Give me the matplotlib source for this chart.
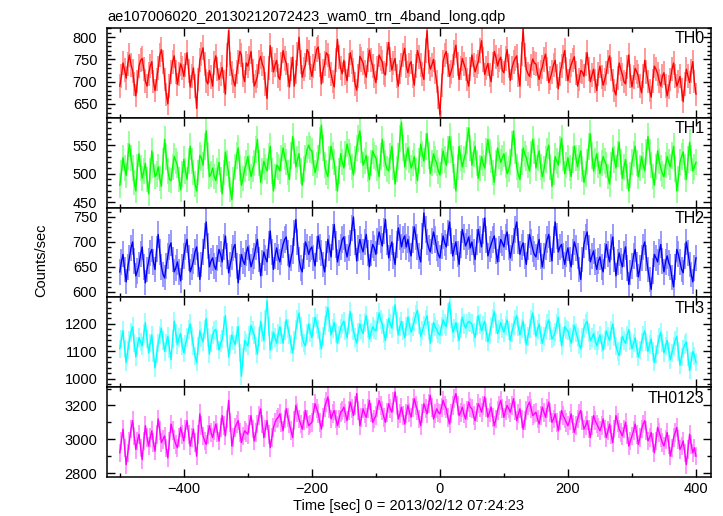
import numpy as np
import matplotlib.pyplot as plt
from matplotlib.ticker import MultipleLocator
from matplotlib.colors import to_rgb

plt.rcParams['font.family'] = ['Liberation Sans', 'DejaVu Sans']

title = 'ae107006020_20130212072423_wam0_trn_4band_long.qdp'
xlabel = 'Time [sec] 0 = 2013/02/12 07:24:23'
ylabel = 'Counts/sec'

# time bins (s): on-grid points every 5 s from -500 to 400,
# mid points half way between them
time_on = np.arange(-500, 401, 5)
time_mid = time_on[:-1] + 2.5

th0 = [690, 742, 708, 760, 725, 668, 735, 752, 701, 718,
       745, 680, 730, 772, 705, 650, 722, 758, 694, 740,
       712, 765, 688, 731, 640, 748, 776, 702, 725, 690,
       758, 705, 732, 672, 815, 719, 690, 744, 760, 700,
       735, 768, 690, 712, 757, 730, 662, 781, 722, 748,
       705, 770, 742, 688, 755, 722, 800, 710, 738, 765,
       712, 752, 778, 695, 741, 760, 718, 688, 795, 730,
       748, 702, 765, 726, 681, 757, 742, 710, 771, 735,
       698, 760, 744, 715, 788, 726, 752, 690, 738, 775,
       720, 745, 692, 770, 738, 705, 815, 728, 750, 700,
       626, 745, 768, 712, 736, 782, 705, 752, 729, 690,
       760, 722, 745, 792, 716, 741, 700, 768, 735, 755,
       720, 772, 703, 744, 758, 690, 818, 728, 712, 751,
       740, 705, 733, 762, 698, 722, 748, 684, 735, 770,
       702, 738, 756, 690, 725, 712, 765, 700, 728, 680,
       735, 692, 720, 758, 703, 670, 742, 716, 695, 760,
       688, 730, 712, 675, 748, 700, 665, 735, 718, 690,
       720, 668, 705, 742, 690, 712, 655, 728, 698, 745,
       672]
th0_mid = [712, 726, 740, 738, 695, 700, 748, 728, 690, 735,
           700, 705, 760, 745, 672, 690, 745, 722, 718, 730,
           738, 725, 712, 690, 705, 762, 740, 695, 710, 742,
           728, 718, 700, 760, 740, 702, 722, 768, 715, 742,
           752, 725, 700, 745, 740, 695, 730, 750, 738, 712,
           740, 752, 715, 728, 690, 762, 745, 728, 772, 730,
           735, 772, 738, 725, 765, 735, 700, 748, 755, 718,
           720, 738, 745, 695, 712, 750, 722, 748, 748, 712,
           730, 752, 720, 762, 750, 742, 712, 722, 760, 735,
           738, 712, 735, 755, 718, 770, 745, 738, 722, 665,
           692, 760, 738, 722, 765, 740, 730, 740, 705, 728,
           738, 735, 770, 750, 730, 715, 740, 755, 748, 725,
           752, 735, 730, 752, 715, 762, 760, 718, 735, 742,
           718, 722, 750, 728, 708, 738, 712, 718, 755, 728,
           725, 748, 720, 705, 722, 740, 728, 715, 702, 718,
           710, 705, 745, 728, 680, 708, 728, 700, 732, 712,
           710, 722, 690, 712, 722, 680, 702, 728, 702, 712,
           690, 688, 728, 712, 700, 682, 695, 712, 725, 700]

th1 = [480, 528, 497, 552, 510, 470, 535, 492, 518, 465,
       540, 495, 512, 478, 560, 505, 488, 530, 515, 472,
       525, 490, 548, 502, 470, 532, 515, 575, 495, 510,
       488, 520, 465, 538, 500, 455, 512, 545, 480, 508,
       530, 495, 518, 560, 485, 522, 505, 548, 470, 515,
       505, 545, 520, 490, 565, 512, 535, 480, 528, 550,
       540, 502, 528, 585, 515, 495, 548, 520, 470, 535,
       510, 552, 530, 498, 545, 575, 515, 532, 490, 540,
       528, 495, 560, 518, 505, 548, 482, 530, 590, 512,
       545, 510, 530, 488, 552, 522, 570, 500, 535, 518,
       498, 540, 515, 565, 525, 470, 548, 512, 535, 580,
       515, 548, 492, 530, 510, 560, 525, 485, 545, 520,
       535, 500, 520, 575, 512, 490, 545, 528, 505, 560,
       510, 540, 495, 525, 550, 478, 530, 515, 562, 500,
       528, 495, 548, 512, 540, 485, 520, 570, 505, 535,
       500, 530, 515, 482, 545, 510, 555, 492, 525, 470,
       520, 548, 495, 530, 505, 565, 515, 480, 540, 510,
       495, 530, 512, 548, 470, 520, 538, 490, 555, 505,
       520]
th1_mid = [502, 510, 530, 528, 485, 512, 510, 505, 490, 505,
           515, 500, 492, 522, 530, 490, 512, 522, 490, 500,
           505, 522, 522, 482, 502, 528, 548, 532, 500, 495,
           505, 490, 502, 518, 472, 490, 532, 510, 492, 518,
           510, 508, 542, 518, 505, 512, 530, 505, 495, 512,
           528, 530, 502, 532, 540, 525, 505, 508, 542, 542,
           518, 515, 558, 545, 502, 525, 532, 492, 505, 520,
           535, 538, 512, 525, 562, 542, 522, 508, 518, 532,
           510, 530, 535, 508, 530, 512, 508, 562, 545, 530,
           525, 518, 505, 522, 535, 548, 532, 518, 525, 505,
           522, 525, 542, 542, 495, 512, 528, 525, 558, 545,
           535, 518, 510, 518, 540, 538, 502, 518, 532, 528,
           515, 508, 552, 540, 498, 520, 535, 515, 535, 540,
           528, 512, 508, 540, 512, 502, 522, 542, 528, 515,
           510, 525, 528, 528, 508, 500, 548, 532, 522, 515,
           518, 522, 495, 515, 525, 535, 520, 512, 495, 498,
           535, 518, 510, 515, 538, 538, 495, 512, 522, 500,
           515, 520, 532, 508, 492, 530, 512, 525, 528, 512]

th2 = [640, 675, 620, 668, 700, 632, 655, 690, 618, 662,
       685, 645, 715, 650, 628, 672, 698, 640, 660, 622,
       672, 705, 640, 662, 690, 625, 680, 740, 650, 668,
       645, 685, 660, 712, 638, 670, 695, 618, 675, 655,
       690, 650, 672, 705, 632, 680, 660, 722, 645, 688,
       660, 695, 710, 650, 682, 745, 665, 640, 700, 675,
       690, 652, 712, 678, 640, 705, 670, 735, 660, 690,
       710, 670, 698, 750, 662, 705, 680, 715, 650, 695,
       675, 720, 692, 745, 668, 700, 655, 728, 690, 712,
       705, 672, 730, 690, 660, 758, 700, 680, 720, 688,
       668, 712, 690, 740, 672, 700, 655, 725, 692, 710,
       700, 665, 725, 690, 748, 672, 695, 712, 660, 705,
       690, 720, 668, 702, 740, 675, 698, 655, 715, 685,
       670, 705, 650, 690, 715, 662, 740, 680, 695, 655,
       688, 650, 700, 672, 625, 695, 720, 660, 682, 645,
       670, 640, 695, 660, 710, 632, 678, 650, 690, 615,
       652, 685, 630, 668, 700, 645, 605, 675, 660, 695,
       640, 672, 650, 610, 685, 660, 638, 700, 655, 620,
       668]
th2_mid = [660, 645, 650, 688, 662, 642, 675, 650, 645, 678,
           660, 685, 680, 635, 652, 690, 665, 648, 640, 650,
           690, 668, 650, 680, 655, 655, 712, 692, 662, 652,
           668, 675, 690, 672, 655, 688, 652, 650, 662, 678,
           668, 662, 690, 665, 658, 668, 695, 680, 672, 670,
           680, 705, 678, 668, 718, 700, 648, 672, 690, 685,
           668, 685, 690, 655, 675, 688, 710, 695, 678, 705,
           685, 688, 728, 700, 688, 690, 700, 678, 678, 688,
           702, 705, 722, 700, 688, 672, 695, 710, 705, 690,
           685, 705, 710, 672, 712, 725, 688, 702, 705, 675,
           692, 698, 718, 702, 688, 675, 695, 710, 700, 688,
           680, 700, 705, 722, 705, 685, 705, 682, 685, 698,
           710, 690, 688, 725, 702, 690, 672, 690, 700, 675,
           690, 672, 672, 705, 685, 705, 712, 690, 672, 675,
           665, 680, 688, 645, 665, 710, 688, 672, 660, 662,
           650, 672, 675, 690, 665, 660, 662, 675, 648, 638,
           672, 655, 648, 690, 668, 625, 642, 668, 680, 662,
           660, 658, 628, 650, 675, 645, 672, 678, 635, 648]

th3 = [1110, 1175, 1060, 1140, 1190, 1080, 1150, 1120, 1205, 1095,
       1160, 1040, 1130, 1185, 1100, 1155, 1070, 1210, 1125, 1165,
       1095, 1150, 1200, 1120, 1060, 1175, 1135, 1220, 1090, 1160,
       1180, 1105, 1145, 1230, 1080, 1160, 1125, 1190, 1010, 1140,
       1120, 1195, 1160, 1090, 1210, 1140, 1285, 1105, 1170, 1130,
       1190, 1130, 1215, 1160, 1095, 1180, 1240, 1150, 1120, 1200,
       1150, 1225, 1180, 1110, 1195, 1260, 1160, 1205, 1130, 1185,
       1210, 1150, 1245, 1175, 1130, 1200, 1165, 1230, 1145, 1190,
       1175, 1240, 1200, 1140, 1220, 1185, 1270, 1160, 1210, 1150,
       1225, 1170, 1210, 1250, 1155, 1195, 1230, 1130, 1205, 1180,
       1160, 1215, 1190, 1280, 1170, 1205, 1140, 1225, 1185, 1210,
       1200, 1150, 1230, 1175, 1210, 1135, 1190, 1245, 1165, 1205,
       1170, 1215, 1140, 1195, 1230, 1160, 1210, 1125, 1185, 1240,
       1155, 1200, 1130, 1180, 1215, 1145, 1170, 1225, 1120, 1190,
       1175, 1130, 1195, 1150, 1110, 1185, 1210, 1140, 1165, 1120,
       1160, 1105, 1175, 1140, 1200, 1120, 1085, 1155, 1130, 1180,
       1110, 1150, 1080, 1135, 1175, 1100, 1145, 1060, 1125, 1170,
       1095, 1140, 1070, 1120, 1155, 1050, 1110, 1135, 1030, 1100,
       1060]
th3_mid = [1145, 1110, 1105, 1170, 1130, 1120, 1135, 1165, 1145, 1130,
           1095, 1090, 1160, 1140, 1130, 1110, 1145, 1165, 1150, 1120,
           1125, 1180, 1155, 1085, 1120, 1150, 1180, 1150, 1130, 1175,
           1140, 1130, 1195, 1150, 1125, 1140, 1160, 1095, 1080, 1130,
           1160, 1175, 1120, 1155, 1170, 1215, 1190, 1140, 1150, 1165,
           1160, 1175, 1185, 1125, 1140, 1215, 1190, 1130, 1165, 1170,
           1190, 1200, 1140, 1155, 1230, 1205, 1185, 1165, 1160, 1200,
           1175, 1200, 1205, 1150, 1170, 1180, 1205, 1185, 1170, 1180,
           1210, 1215, 1165, 1185, 1200, 1230, 1210, 1190, 1175, 1190,
           1195, 1190, 1235, 1200, 1175, 1215, 1175, 1170, 1190, 1165,
           1190, 1200, 1240, 1220, 1185, 1170, 1185, 1200, 1200, 1205,
           1170, 1195, 1200, 1195, 1170, 1160, 1220, 1200, 1180, 1185,
           1195, 1175, 1170, 1215, 1190, 1185, 1165, 1155, 1215, 1195,
           1180, 1160, 1155, 1200, 1175, 1155, 1200, 1170, 1155, 1180,
           1150, 1165, 1170, 1125, 1150, 1200, 1170, 1150, 1140, 1140,
           1130, 1140, 1155, 1175, 1155, 1100, 1120, 1140, 1160, 1140,
           1130, 1110, 1105, 1160, 1135, 1125, 1100, 1090, 1150, 1130,
           1120, 1100, 1095, 1140, 1100, 1080, 1125, 1080, 1065, 1085]

th0123 = [2920, 3060, 2850, 2990, 3110, 2940, 3030, 2880, 3080, 2960,
          3050, 2930, 3120, 2980, 3020, 2890, 3090, 3000, 2950, 3070,
          2990, 3110, 2960, 3060, 2900, 3150, 3020, 2970, 3080, 3010,
          3090, 2990, 3140, 3020, 3230, 2960, 3070, 3110, 2980, 3050,
          3030, 3140, 2990, 3090, 3180, 3010, 3110, 2950, 3070, 3120,
          3150, 3050, 3180, 3090, 3010, 3200, 3120, 3060, 3170, 3080,
          3100, 3210, 3150, 3060, 3190, 3250, 3120, 3170, 3080, 3160,
          3190, 3110, 3220, 3140, 3270, 3080, 3180, 3130, 3230, 3100,
          3140, 3230, 3170, 3100, 3210, 3160, 3280, 3120, 3190, 3090,
          3200, 3130, 3240, 3170, 3080, 3210, 3150, 3260, 3120, 3180,
          3150, 3230, 3180, 3090, 3200, 3270, 3140, 3190, 3120, 3220,
          3180, 3110, 3210, 3160, 3250, 3130, 3190, 3080, 3170, 3230,
          3130, 3200, 3160, 3240, 3110, 3180, 3060, 3170, 3220, 3140,
          3160, 3090, 3190, 3130, 3220, 3100, 3150, 3050, 3170, 3120,
          3080, 3150, 3040, 3120, 3170, 3060, 3110, 3010, 3140, 3090,
          3050, 3120, 3010, 3090, 2980, 3140, 3060, 3020, 3100, 2960,
          3020, 3090, 2970, 3060, 3110, 2990, 3040, 2920, 3070, 3010,
          2960, 3040, 2900, 3010, 3070, 2940, 2990, 2850, 3030, 2920,
          2900]
th0123_mid = [2990, 2950, 2920, 3060, 3020, 2990, 2950, 2990, 3010, 3010,
              2980, 3030, 3050, 3000, 2950, 2990, 3050, 2970, 3010, 3030,
              3060, 3030, 3010, 2980, 3030, 3080, 2990, 3030, 3040, 3050,
              3040, 3070, 3080, 3120, 3100, 3010, 3090, 3040, 3020, 3040,
              3090, 3060, 3040, 3140, 3090, 3060, 3030, 3010, 3100, 3130,
              3100, 3120, 3130, 3050, 3110, 3160, 3090, 3110, 3120, 3090,
              3160, 3180, 3100, 3130, 3220, 3180, 3150, 3120, 3120, 3170,
              3150, 3170, 3180, 3200, 3170, 3130, 3150, 3180, 3160, 3120,
              3190, 3200, 3130, 3160, 3180, 3220, 3200, 3150, 3140, 3150,
              3160, 3190, 3200, 3120, 3150, 3180, 3210, 3190, 3150, 3160,
              3190, 3200, 3130, 3150, 3240, 3200, 3160, 3150, 3170, 3190,
              3140, 3160, 3190, 3200, 3190, 3160, 3130, 3120, 3200, 3180,
              3170, 3180, 3200, 3170, 3150, 3120, 3110, 3200, 3180, 3150,
              3120, 3140, 3160, 3180, 3160, 3120, 3100, 3110, 3140, 3100,
              3110, 3090, 3080, 3150, 3110, 3080, 3060, 3080, 3110, 3070,
              3080, 3060, 3050, 3030, 3060, 3100, 3040, 3060, 3030, 2990,
              3050, 3030, 3010, 3090, 3050, 3010, 2980, 2990, 3040, 2980,
              3000, 2970, 2950, 3040, 3000, 2960, 2920, 2940, 2970, 2950]

bands = ['TH0', 'TH1', 'TH2', 'TH3', 'TH0123']
series = [(th0, th0_mid), (th1, th1_mid), (th2, th2_mid),
          (th3, th3_mid), (th0123, th0123_mid)]
colors = ['#ff0000', '#00ff00', '#0000ff', '#00ffff', '#ff00ff']
ylims = [(619, 821), (441, 598), (589, 769), (970, 1297), (2777, 3308)]
ymajor = [50, 50, 50, 100, 200]
yminor = [10, 10, 10, 20, 100]

# merge on-grid and mid points into one time-ordered curve
time = np.empty(len(time_on) + len(time_mid))
time[0::2] = time_on
time[1::2] = time_mid

fig = plt.figure(figsize=(7.23, 5.16), dpi=100)
axes = fig.subplots(5, 1, sharex=True, gridspec_kw=dict(hspace=0))
fig.subplots_adjust(left=0.148, right=0.983, top=0.946, bottom=0.0756)

for ax, name, (on, mid), c, yl, ma, mi in zip(axes, bands, series, colors,
                                              ylims, ymajor, yminor):
    vals = np.empty(len(on) + len(mid))
    vals[0::2] = on
    vals[1::2] = mid
    light = tuple(0.5 * np.array(to_rgb(c)) + 0.5)
    ax.errorbar(time, vals, yerr=np.sqrt(vals), color=c, lw=1.0,
                ecolor=light, elinewidth=1.1, capsize=0)
    ax.set_xlim(-520, 423)
    ax.set_ylim(*yl)
    ax.yaxis.set_major_locator(MultipleLocator(ma))
    ax.yaxis.set_minor_locator(MultipleLocator(mi))
    ax.xaxis.set_major_locator(MultipleLocator(200))
    ax.xaxis.set_minor_locator(MultipleLocator(100))
    ax.tick_params(which='both', direction='in', top=True, right=True,
                   labelsize=10.5, width=1)
    ax.tick_params(which='major', length=6)
    ax.tick_params(which='minor', length=3)
    ax.tick_params(axis='y', pad=7)
    for sp in ax.spines.values():
        sp.set_linewidth(1.1)
    ax.text(0.99, 0.96, name, transform=ax.transAxes, ha='right', va='top',
            fontsize=11.5)

axes[0].set_title(title, loc='left', fontsize=10.5, pad=5)
axes[-1].set_xlabel(xlabel, fontsize=10.5, labelpad=2)
fig.text(0.057, 0.496, ylabel, rotation=90, ha='center', va='center',
         fontsize=10.5)

fig.savefig('out.png', dpi=100)
